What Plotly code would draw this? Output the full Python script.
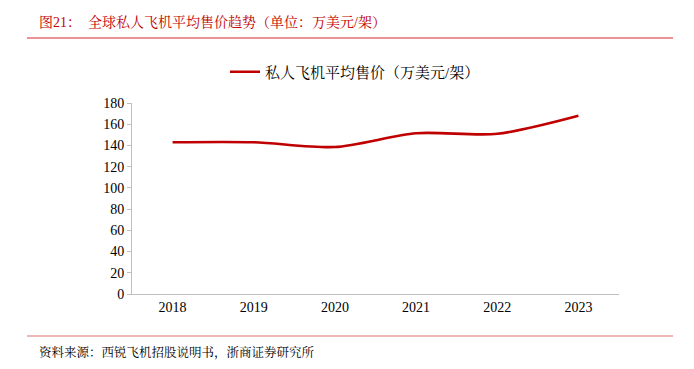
import plotly.graph_objects as go

years = ["2018", "2019", "2020", "2021", "2022", "2023"]
prices = [143, 143, 138.5, 151.5, 151, 168]
series_name = "私人飞机平均售价（万美元/架）"
title_text = "图21：  全球私人飞机平均售价趋势（单位：万美元/架）"
source_text = "资料来源：西锐飞机招股说明书，浙商证券研究所"
y_ticks = list(range(0, 181, 20))

FONT = "'Liberation Serif', 'Noto Serif CJK SC', 'Noto Sans CJK SC', serif"

# page body has an 8px margin; compensate in figure margins
OFF = 8
L, T, R, B = 132 - OFF, 103 - OFF, 75 + OFF, 75 + OFF
PW, PH = 694 - L - R, 369 - T - B

def px(xabs):
    return (xabs - OFF - L) / PW

def py(yabs):
    return (369 - B - (yabs - OFF)) / PH

fig = go.Figure()
fig.add_trace(go.Scatter(
    x=years, y=prices, mode="lines", name=series_name,
    line=dict(color="#C00000", width=2.6, shape="spline", smoothing=0.8),
))

fig.update_layout(
    width=694, height=369,
    margin=dict(l=L, r=R, t=T, b=B, autoexpand=False),
    paper_bgcolor="white", plot_bgcolor="white",
    font=dict(family=FONT, size=14, color="#000000"),
    showlegend=True,
    legend=dict(orientation="h", x=px(355), xanchor="center", y=1 - (72 - OFF)/369, yanchor="middle",
                yref="container", font=dict(size=15, family=FONT), bgcolor="rgba(0,0,0,0)"),
    xaxis=dict(showline=True, linecolor="#BFBFBF", linewidth=1, ticks="", showgrid=False,
               tickfont=dict(size=14, family=FONT), range=[-0.5, 5.5], zeroline=False),
    yaxis=dict(showline=True, linecolor="#BFBFBF", linewidth=1, ticks="outside", ticklen=4,
               tickcolor="#BFBFBF", showgrid=False, range=[0, 180], tickvals=y_ticks,
               tickfont=dict(size=14, family=FONT), zeroline=False),
    shapes=[
        dict(type="line", xref="paper", yref="paper", x0=px(27), x1=px(673),
             y0=py(38), y1=py(38), line=dict(color="#D9262B", width=1)),
        dict(type="line", xref="paper", yref="paper", x0=px(27), x1=px(673),
             y0=py(336), y1=py(336), line=dict(color="#E8A0A0", width=1.5)),
    ],
    annotations=[
        dict(text=title_text, xref="paper", yref="paper", x=px(37), y=py(22),
             xanchor="left", yanchor="middle", showarrow=False,
             font=dict(size=14, color="#C00000", family=FONT)),
        dict(text=source_text, xref="paper", yref="paper", x=px(37), y=py(352),
             xanchor="left", yanchor="middle", showarrow=False,
             font=dict(size=12.5, color="#000000", family=FONT)),
    ],
)

fig.write_html("out.html")
